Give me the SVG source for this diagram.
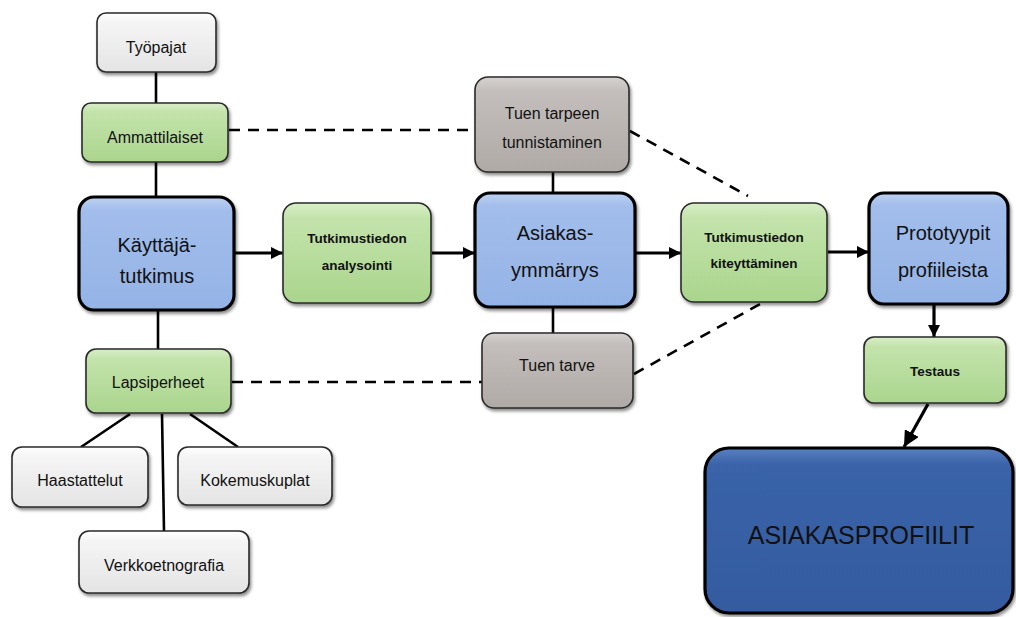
<svg xmlns="http://www.w3.org/2000/svg" width="1016" height="617" viewBox="0 0 1016 617">
<style>
text{font-family:"Liberation Sans",Arial,sans-serif;fill:#111;text-anchor:middle}
.s14{font-size:16px}
.s20{font-size:20px}
.b13{font-size:13.5px;font-weight:bold}
.big{font-size:25px}
.thin{stroke:#2a2a2a;stroke-width:1.6}
.thick{stroke:#000;stroke-width:3.2}
.line{stroke:#000;stroke-width:2.6;fill:none}
.dash{stroke:#000;stroke-width:2.6;fill:none;stroke-dasharray:11 8}
.arrow{stroke:#000;stroke-width:3.2;fill:none}
</style>
<defs>
<linearGradient id="gW" x1="0" y1="0" x2="0" y2="1"><stop offset="0" stop-color="#ffffff"/><stop offset="0.15" stop-color="#f5f5f5"/><stop offset="1" stop-color="#e4e4e4"/></linearGradient>
<linearGradient id="gG" x1="0" y1="0" x2="0" y2="1"><stop offset="0" stop-color="#d8eec8"/><stop offset="0.15" stop-color="#c3e3ab"/><stop offset="1" stop-color="#aad58d"/></linearGradient>
<linearGradient id="gB" x1="0" y1="0" x2="0" y2="1"><stop offset="0" stop-color="#bcd1f3"/><stop offset="0.12" stop-color="#a2bdeb"/><stop offset="1" stop-color="#94b3e6"/></linearGradient>
<linearGradient id="gS" x1="0" y1="0" x2="0" y2="1"><stop offset="0" stop-color="#d6d2cf"/><stop offset="0.15" stop-color="#c3bebb"/><stop offset="1" stop-color="#b0aaa7"/></linearGradient>
<linearGradient id="gD" x1="0" y1="0" x2="0" y2="1"><stop offset="0" stop-color="#5a80c0"/><stop offset="0.1" stop-color="#3a63a9"/><stop offset="1" stop-color="#345b9f"/></linearGradient>
<filter id="sh" x="-10%" y="-10%" width="125%" height="130%"><feDropShadow dx="1.5" dy="2.5" stdDeviation="1.5" flood-color="#000" flood-opacity="0.45"/></filter>
<marker id="ah" viewBox="0 0 10 10" refX="10" refY="5" markerWidth="12" markerHeight="12" markerUnits="userSpaceOnUse" orient="auto"><path d="M0,0 L10,5 L0,10 z" fill="#000"/></marker>
<marker id="ahb" viewBox="0 0 10 10" refX="10" refY="5" markerWidth="16" markerHeight="16" markerUnits="userSpaceOnUse" orient="auto"><path d="M0,0 L10,5 L0,10 z" fill="#000"/></marker>
</defs>

<g id="connectors">
<line class="line" x1="156" y1="72" x2="156" y2="103"/>
<line class="line" x1="156" y1="162" x2="156" y2="197"/>
<line class="line" x1="158" y1="310" x2="158" y2="349"/>
<line class="line" x1="130" y1="414" x2="81" y2="447"/>
<line class="line" x1="190" y1="414" x2="238" y2="447"/>
<line class="line" x1="162" y1="414" x2="164" y2="531"/>
<line class="line" x1="553" y1="172" x2="553" y2="193"/>
<line class="line" x1="553" y1="307" x2="553" y2="333"/>
<line class="dash" x1="229" y1="130" x2="475" y2="130"/>
<line class="dash" x1="232" y1="382" x2="482" y2="382"/>
<line class="dash" x1="630" y1="131" x2="748" y2="196"/>
<line class="dash" x1="634" y1="374" x2="762" y2="303"/>
<line class="arrow" x1="235" y1="253" x2="283" y2="253" marker-end="url(#ah)"/>
<line class="arrow" x1="432" y1="253" x2="475" y2="253" marker-end="url(#ah)"/>
<line class="arrow" x1="636" y1="253" x2="681" y2="253" marker-end="url(#ah)"/>
<line class="arrow" x1="828" y1="252" x2="869" y2="252" marker-end="url(#ah)"/>
<line class="arrow" x1="934" y1="305" x2="934" y2="337" marker-end="url(#ah)"/>
<line class="arrow" x1="928" y1="404" x2="904" y2="447" stroke-width="4" marker-end="url(#ahb)"/>
</g>

<g id="tyopajat"><rect x="97" y="13" width="119" height="59" rx="9" fill="url(#gW)" class="thin" filter="url(#sh)"/><text class="s14" x="156" y="53">Työpajat</text></g>
<g id="ammattilaiset"><rect x="82" y="103" width="146" height="59" rx="9" fill="url(#gG)" class="thin" filter="url(#sh)"/><text class="s14" x="155" y="143">Ammattilaiset</text></g>
<g id="kayttajatutkimus"><rect x="79" y="197" width="155" height="113" rx="15" fill="url(#gB)" class="thick" filter="url(#sh)"/><text class="s20" x="157" y="252">Käyttäjä-</text><text class="s20" x="157" y="283">tutkimus</text></g>
<g id="analysointi"><rect x="283" y="203" width="148" height="100" rx="13" fill="url(#gG)" class="thin" filter="url(#sh)"/><text class="b13" x="357" y="243">Tutkimustiedon</text><text class="b13" x="357" y="270">analysointi</text></g>
<g id="tunnistaminen"><rect x="475" y="77" width="154" height="95" rx="13" fill="url(#gS)" class="thin" filter="url(#sh)"/><text class="s14" x="552" y="119">Tuen tarpeen</text><text class="s14" x="552" y="148">tunnistaminen</text></g>
<g id="asiakasymmarrys"><rect x="475" y="193" width="160" height="114" rx="15" fill="url(#gB)" class="thick" filter="url(#sh)"/><text class="s20" x="555" y="240">Asiakas-</text><text class="s20" x="555" y="277">ymmärrys</text></g>
<g id="tuentarve"><rect x="482" y="333" width="151" height="75" rx="12" fill="url(#gS)" class="thin" filter="url(#sh)"/><text class="s14" x="557" y="371">Tuen tarve</text></g>
<g id="kiteyttaminen"><rect x="681" y="203" width="146" height="99" rx="13" fill="url(#gG)" class="thin" filter="url(#sh)"/><text class="b13" x="754" y="242">Tutkimustiedon</text><text class="b13" x="754" y="268">kiteyttäminen</text></g>
<g id="prototyypit"><rect x="869" y="193" width="139" height="111" rx="15" fill="url(#gB)" class="thick" filter="url(#sh)"/><text class="s20" x="943" y="240">Prototyypit</text><text class="s20" x="943" y="277">profiileista</text></g>
<g id="testaus"><rect x="864" y="337" width="142" height="66" rx="10" fill="url(#gG)" class="thin" filter="url(#sh)"/><text class="b13" x="935" y="376">Testaus</text></g>
<g id="asiakasprofiilit"><rect x="705" y="448" width="308" height="165" rx="24" fill="url(#gD)" class="thick" filter="url(#sh)"/><text class="big" x="861" y="544">ASIAKASPROFIILIT</text></g>
<g id="lapsiperheet"><rect x="86" y="349" width="145" height="64" rx="10" fill="url(#gG)" class="thin" filter="url(#sh)"/><text class="s14" x="158" y="388">Lapsiperheet</text></g>
<g id="haastattelut"><rect x="12" y="447" width="136" height="60" rx="10" fill="url(#gW)" class="thin" filter="url(#sh)"/><text class="s14" x="80" y="486">Haastattelut</text></g>
<g id="kokemuskuplat"><rect x="178" y="447" width="154" height="58" rx="10" fill="url(#gW)" class="thin" filter="url(#sh)"/><text class="s14" x="255" y="486">Kokemuskuplat</text></g>
<g id="verkkoetnografia"><rect x="79" y="531" width="170" height="62" rx="10" fill="url(#gW)" class="thin" filter="url(#sh)"/><text class="s14" x="164" y="571">Verkkoetnografia</text></g>
</svg>
